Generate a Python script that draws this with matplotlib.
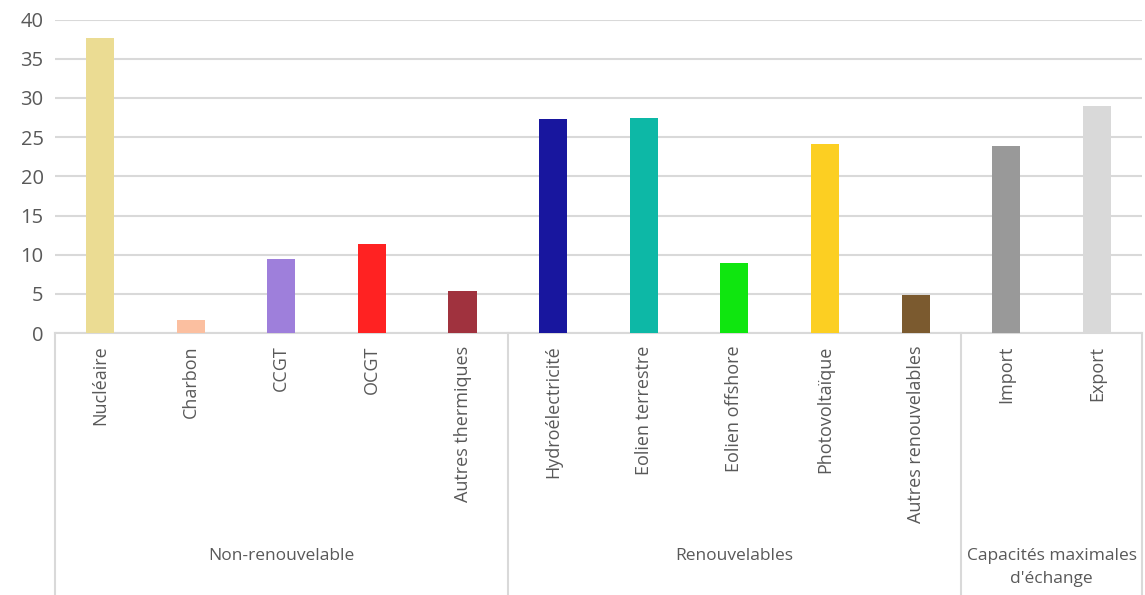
import numpy as np
import matplotlib.pyplot as plt

categories = ['Nucléaire', 'Charbon', 'CCGT', 'OCGT', 'Autres thermiques',
              'Hydroélectricité', 'Eolien terrestre', 'Eolien offshore',
              'Photovoltaïque', 'Autres renouvelables', 'Import', 'Export']
values = [37.6, 1.6, 9.4, 11.4, 5.3, 27.3, 27.5, 8.9, 24.1, 4.8, 23.9, 29.0]
colors = ['#EBDC93', '#FBBFA0', '#9E7FDB', '#FF2222', '#A0323E',
          '#18169E', '#0DB8A6', '#0FE60F', '#FCCF22', '#7B5A2F',
          '#999999', '#D9D9D9']
groups = ['Non-renouvelable', 'Renouvelables', 'Capacités maximales\nd\'échange']
group_sizes = [5, 5, 2]

plt.rcParams['font.family'] = ['Open Sans', 'DejaVu Sans']

fig = plt.figure(figsize=(11.45, 5.95), dpi=100)
ax = fig.add_axes([0.0478, 0.4403, 0.9497, 0.5267])

x = np.arange(len(categories))
ax.bar(x, values, width=0.31, color=colors, zorder=3)

ax.set_xlim(-0.5, len(categories) - 0.5)
ax.set_ylim(0, 40)
ax.set_yticks(np.arange(0, 41, 5))
ax.yaxis.grid(True, color='#D9D9D9', linewidth=1.5, zorder=0)
ax.tick_params(axis='y', length=0, labelsize=14.5, labelcolor='#595959', pad=8)
ax.set_xticks(x)
ax.set_xticklabels(categories, rotation=90, fontsize=13, color='#595959')
ax.tick_params(axis='x', length=0, pad=9)

for s in ['left', 'right', 'top']:
    ax.spines[s].set_visible(False)
ax.spines['bottom'].set_color('#D9D9D9')
ax.spines['bottom'].set_linewidth(1.5)

# group separators and labels below the axis
bottom = -0.84
edges = np.concatenate([[0], np.cumsum(group_sizes)]) - 0.5
for e in edges:
    ax.plot([e, e], [0, bottom], transform=ax.get_xaxis_transform(),
            color='#D9D9D9', linewidth=1.5, clip_on=False)
for i, g in enumerate(groups):
    mid = (edges[i] + edges[i + 1]) / 2
    ax.text(mid, -0.687, g, transform=ax.get_xaxis_transform(),
            ha='center', va='top', fontsize=12.5, color='#595959', linespacing=1.55)

fig.savefig('out.png', dpi=100)
